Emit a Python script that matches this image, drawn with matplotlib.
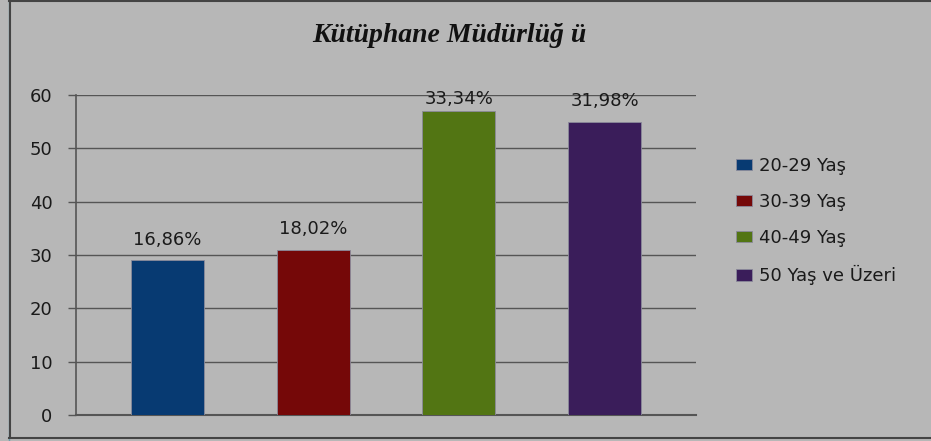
import matplotlib.pyplot as plt
from matplotlib.lines import Line2D

categories = ["20-29 Yaş", "30-39 Yaş", "40-49 Yaş", "50 Yaş ve Üzeri"]
values = [29, 31, 57, 55]
pct_labels = ["16,86%", "18,02%", "33,34%", "31,98%"]
colors = ["#073a72", "#750808", "#527513", "#3a1d5a"]
yticks = [0, 10, 20, 30, 40, 50, 60]

BG = "#b7b7b7"
LINE = "#555555"
TXT = "#1a1a1a"

fig = plt.figure(figsize=(9.31, 4.41), dpi=100, facecolor=BG)
ax = fig.add_axes([76 / 931, 1 - 415 / 441, 620 / 931, 320 / 441])
ax.set_facecolor(BG)

for i, (cat, v, c) in enumerate(zip(categories, values, colors)):
    ax.bar(i, v, width=0.5, color=c, edgecolor="#8a8a9a", linewidth=0.6, label=cat, zorder=3)
    # excel-style label: above the bar, kept inside the plot area
    ly = min(v + 3.9, 59.3)
    ax.text(i, ly, pct_labels[i], ha="center", va="center",
            fontsize=13, color=TXT, family="DejaVu Sans", zorder=4)

ax.set_xlim(-0.627, 3.627)
ax.set_ylim(0, 60)
ax.set_yticks(yticks)
ax.set_xticks([])
ax.yaxis.grid(True, color=LINE, linewidth=1.0, zorder=0)
ax.axhline(0, color=LINE, linewidth=1.5, zorder=2, clip_on=False)
ax.tick_params(axis="y", direction="out", length=6, width=1.0, color=LINE,
               labelsize=13, labelcolor=TXT, pad=11)
for s in ["top", "right", "bottom"]:
    ax.spines[s].set_visible(False)
ax.spines["left"].set_color(LINE)
ax.spines["left"].set_linewidth(1.2)

fig.text(449 / 931, 1 - 36 / 441, "Kütüphane Müdürlüğ ü", ha="center", va="center",
         fontsize=20, fontweight="bold", fontstyle="italic", family="Liberation Serif",
         color="#111111")

handles, labels = ax.get_legend_handles_labels()
fig.legend(handles, labels, loc="upper left", bbox_to_anchor=(736 / 931, 1 - 157 / 441),
           frameon=False, fontsize=13, handlelength=0.9, handleheight=0.6,
           handletextpad=0.35, labelspacing=1.0, borderpad=0, borderaxespad=0,
           labelcolor=TXT)

# outer border
fig.add_artist(Line2D([8.5 / 931, 8.5 / 931], [0, 1], color="#6fa0b0", linewidth=1.0))
fig.add_artist(Line2D([10 / 931, 10 / 931], [4 / 441, 1], color="#444444", linewidth=1.5))
fig.add_artist(Line2D([9 / 931, 1], [1 - 1 / 441, 1 - 1 / 441], color="#444444", linewidth=1.5))
fig.add_artist(Line2D([9 / 931, 1], [1 - 437.5 / 441, 1 - 437.5 / 441], color="#444444", linewidth=1.5))

fig.savefig("out.png", dpi=100, facecolor=BG)
